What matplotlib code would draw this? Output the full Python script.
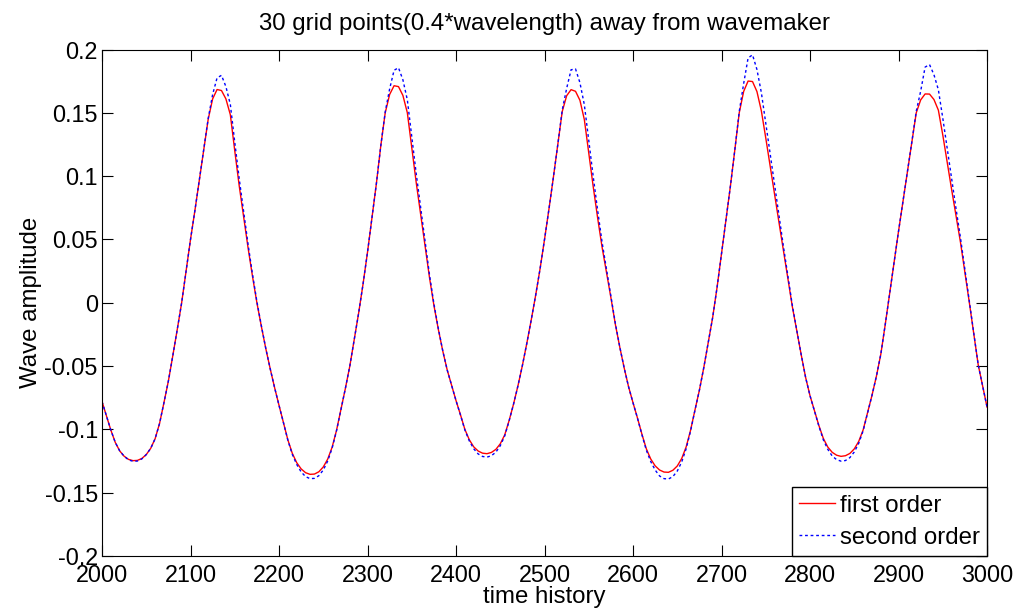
import matplotlib
matplotlib.use("Agg")
import matplotlib.pyplot as plt
import numpy as np

plt.rcParams['font.family'] = ['Liberation Sans', 'DejaVu Sans']
plt.rcParams['axes.unicode_minus'] = False

# time samples, every 5 steps
time = np.arange(2000, 3001, 5)

first_order = [
    -0.078, -0.0892, -0.1006, -0.1103, -0.1170, -0.1212, -0.1237, -0.1247, -0.1245, -0.1230,
    -0.1199, -0.1150, -0.1074, -0.0954, -0.0789, -0.0618, -0.0418, -0.0212, 0.000, 0.025,
    0.050, 0.073, 0.097, 0.121, 0.145, 0.161, 0.1684, 0.1676, 0.161, 0.1485,
    0.120, 0.0925, 0.068, 0.0435, 0.021, 0.000, -0.0185, -0.036, -0.052, -0.067,
    -0.081, -0.0946, -0.1083, -0.1189, -0.1263, -0.1312, -0.1342, -0.1355, -0.1353, -0.1335,
    -0.1297, -0.1235, -0.1141, -0.1007, -0.0842, -0.0676, -0.050, -0.029, -0.008, 0.015,
    0.040, 0.067, 0.094, 0.124, 0.150, 0.1645, 0.1714, 0.1707, 0.1637, 0.150,
    0.1225, 0.095, 0.070, 0.045, 0.020, -0.002, -0.021, -0.038, -0.053, -0.065,
    -0.0773, -0.0884, -0.1000, -0.1082, -0.1138, -0.1171, -0.1188, -0.1192, -0.1182, -0.1158,
    -0.1114, -0.1044, -0.093, -0.080, -0.0655, -0.0495, -0.032, -0.0135, 0.006, 0.027,
    0.050, 0.074, 0.099, 0.125, 0.151, 0.1635, 0.1683, 0.167, 0.1599, 0.1446,
    0.118, 0.0917, 0.067, 0.044, 0.024, 0.004, -0.017, -0.035, -0.0515, -0.0665,
    -0.079, -0.091, -0.1037, -0.1153, -0.1234, -0.1288, -0.1321, -0.1337, -0.1339, -0.1323,
    -0.1289, -0.1230, -0.1139, -0.1007, -0.0846, -0.069, -0.051, -0.031, -0.0115, 0.0124,
    0.039, 0.066, 0.092, 0.1206, 0.150, 0.1669, 0.1751, 0.1747, 0.1668, 0.1515,
    0.130, 0.1075, 0.0855, 0.063, 0.041, 0.019, -0.0031, -0.022, -0.041, -0.059,
    -0.0735, -0.0853, -0.097, -0.1071, -0.1139, -0.1181, -0.1204, -0.1213, -0.1208, -0.1190,
    -0.1154, -0.1095, -0.1004, -0.0869, -0.0731, -0.058, -0.0405, -0.017, 0.0075, 0.032,
    0.0566, 0.080, 0.1037, 0.127, 0.150, 0.1602, 0.1649, 0.1648, 0.1605, 0.1521,
    0.1324, 0.1106, 0.0893, 0.0685, 0.0476, 0.024, 0.000, -0.0245, -0.049, -0.0657,
    -0.0824,
]

second_order = [
    -0.078, -0.0892, -0.1006, -0.1103, -0.1170, -0.1212, -0.1241, -0.1252, -0.1250, -0.1233,
    -0.1199, -0.1150, -0.1074, -0.0954, -0.0789, -0.0618, -0.0418, -0.0212, 0.000, 0.025,
    0.050, 0.073, 0.097, 0.121, 0.1456, 0.1645, 0.1776, 0.1796, 0.1707, 0.1566,
    0.1267, 0.0981, 0.0722, 0.0463, 0.0227, 0.001, -0.0179, -0.0359, -0.052, -0.067,
    -0.081, -0.0946, -0.1086, -0.1197, -0.1277, -0.1336, -0.1373, -0.1389, -0.1387, -0.1366,
    -0.1321, -0.125, -0.1149, -0.101, -0.0842, -0.0676, -0.050, -0.029, -0.008, 0.015,
    0.040, 0.067, 0.094, 0.124, 0.1507, 0.1689, 0.1836, 0.1856, 0.176, 0.1602,
    0.131, 0.102, 0.0753, 0.0485, 0.0222, -0.0007, -0.0203, -0.0379, -0.053, -0.065,
    -0.0773, -0.0886, -0.1005, -0.1091, -0.1153, -0.1194, -0.1214, -0.1219, -0.1208, -0.118,
    -0.1129, -0.1052, -0.0933, -0.080, -0.0655, -0.0495, -0.032, -0.0135, 0.006, 0.027,
    0.050, 0.074, 0.099, 0.125, 0.1522, 0.1693, 0.184, 0.1847, 0.1738, 0.1563,
    0.1277, 0.0997, 0.073, 0.0479, 0.0264, 0.0054, -0.0162, -0.0348, -0.0515, -0.0665,
    -0.079, -0.0911, -0.1041, -0.1164, -0.1254, -0.1321, -0.1368, -0.1389, -0.1392, -0.1373,
    -0.1329, -0.1257, -0.1153, -0.1013, -0.0848, -0.069, -0.051, -0.031, -0.0115, 0.0124,
    0.039, 0.066, 0.092, 0.1206, 0.151, 0.1731, 0.1933, 0.1958, 0.1842, 0.1659,
    0.1419, 0.1173, 0.0929, 0.0679, 0.0441, 0.0208, -0.0021, -0.0218, -0.041, -0.059,
    -0.0735, -0.0855, -0.0975, -0.1082, -0.1157, -0.121, -0.1239, -0.1251, -0.1246, -0.1223,
    -0.1178, -0.111, -0.1011, -0.0872, -0.0731, -0.058, -0.0405, -0.017, 0.0075, 0.032,
    0.0566, 0.080, 0.1037, 0.127, 0.1512, 0.1671, 0.1861, 0.1881, 0.1801, 0.1682,
    0.1457, 0.1216, 0.0976, 0.074, 0.0511, 0.0261, 0.0012, -0.0243, -0.049, -0.0657,
    -0.0824,
]

x_ticks = np.arange(2000, 3001, 100)
y_ticks = [-0.2, -0.15, -0.1, -0.05, 0, 0.05, 0.1, 0.15, 0.2]
y_tick_labels = ['-0.2', '-0.15', '-0.1', '-0.05', '0', '0.05', '0.1', '0.15', '0.2']

assert len(first_order) == len(time) == len(second_order)

fig = plt.figure(figsize=(10.18, 6.12), dpi=100)
ax = fig.add_axes([0.1002, 0.0915, 0.8694, 0.8276])

ax.plot(time, first_order, color='#ff0000', lw=1.0, label='first order')
ax.plot(time, second_order, color='#0000ff', lw=1.0, ls=(0, (2, 2)), label='second order')

ax.set_xlim(2000, 3000)
ax.set_ylim(-0.2, 0.2)
ax.set_xticks(x_ticks)
ax.set_xticklabels([str(t) for t in x_ticks])
ax.set_yticks(y_ticks)
ax.set_yticklabels(y_tick_labels)

ax.tick_params(direction='in', length=8, width=0.8, top=True, right=True,
               labelsize=16.8, colors='black')
ax.tick_params(axis='x', pad=6)
ax.tick_params(axis='y', pad=3)
for s in ax.spines.values():
    s.set_linewidth(0.8)
    s.set_color('black')

ax.set_title('30 grid points(0.4*wavelength) away from wavemaker', fontsize=17.3, pad=14)
ax.set_xlabel('time history', fontsize=17.3, labelpad=-1)
ax.set_ylabel('Wave amplitude', fontsize=17.3, labelpad=2)

leg = ax.legend(loc='lower right', fontsize=17.3, borderaxespad=0, fancybox=False,
                framealpha=1, edgecolor='black', handlelength=1.5, handletextpad=0.2,
                borderpad=0.3, labelspacing=0.42)
leg.get_frame().set_linewidth(1.0)

fig.savefig('out.png', dpi=100)
